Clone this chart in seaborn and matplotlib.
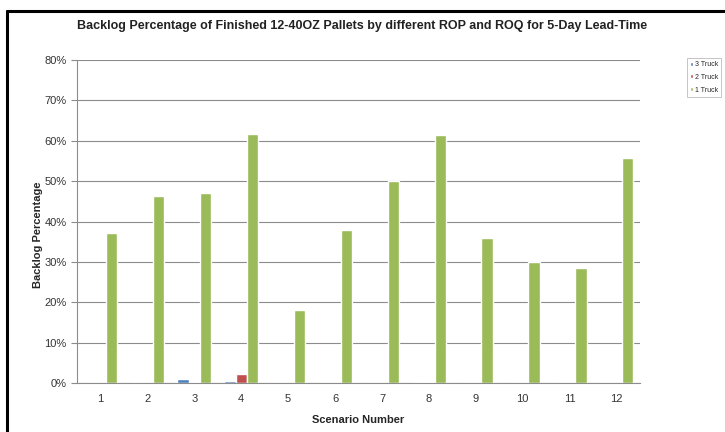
import numpy as np
import pandas as pd
import matplotlib
matplotlib.use("Agg")
import matplotlib.pyplot as plt
from matplotlib.lines import Line2D
import seaborn as sns

# data (backlog %)
scenarios = ["1", "2", "3", "4", "5", "6", "7", "8", "9", "10", "11", "12"]
truck3 = [0.0, 0.2, 0.9, 0.6, 0.0, 0.0, 0.0, 0.2, 0.0, 0.0, 0.0, 0.0]
truck2 = [0.0, 0.1, 0.2, 2.2, 0.0, 0.0, 0.0, 0.2, 0.0, 0.0, 0.0, 0.0]
truck1 = [37.2, 46.3, 47.1, 61.6, 18.1, 37.9, 50.1, 61.4, 35.9, 29.9, 28.4, 55.8]
series = ["3 Truck", "2 Truck", "1 Truck"]
colors = ["#4F81BD", "#C0504D", "#9BBB59"]
yticks = [0, 10, 20, 30, 40, 50, 60, 70, 80]

df = pd.DataFrame({
    "Scenario": scenarios * 3,
    "Series": [series[0]] * 12 + [series[1]] * 12 + [series[2]] * 12,
    "Backlog": truck3 + truck2 + truck1,
})

sns.set_style("white")
plt.rcParams["font.family"] = ["Liberation Sans", "DejaVu Sans"]

fig = plt.figure(figsize=(7.25, 4.32), dpi=100)
ax = fig.add_axes([0.1062, 0.1134, 0.7766, 0.7477])

sns.barplot(data=df, x="Scenario", y="Backlog", hue="Series", order=scenarios,
            hue_order=series, palette=colors, width=0.72, saturation=1,
            errorbar=None, ax=ax)

ax.set_ylim(0, 80)
ax.set_xlim(-0.5, 11.5)
ax.set_yticks(yticks)
ax.set_yticklabels([f"{t}%" for t in yticks], fontsize=8, color="#333333")
ax.yaxis.grid(True, color="#8c8c8c", linewidth=0.8)
ax.set_axisbelow(True)

# excel style ticks between categories
ax.set_xticks(range(12))
ax.set_xticklabels(scenarios, fontsize=8, color="#333333")
ax.set_xticks(np.arange(-0.5, 12, 1), minor=True)
ax.tick_params(axis="x", which="major", length=0, pad=8)
ax.tick_params(axis="x", which="minor", length=4, color="#8c8c8c", direction="out")
ax.tick_params(axis="y", length=4, color="#8c8c8c", direction="out", left=True)

for s in ["top", "right"]:
    ax.spines[s].set_visible(False)
for s in ["left", "bottom"]:
    ax.spines[s].set_color("#8c8c8c")
    ax.spines[s].set_linewidth(0.8)

ax.set_xlabel("Scenario Number", fontsize=8, fontweight="bold", labelpad=8)
ax.set_ylabel("Backlog Percentage", fontsize=8, fontweight="bold")
ax.yaxis.set_label_coords(-0.061, 0.46)

fig.text(0.499, 0.94, "Backlog Percentage of Finished 12-40OZ Pallets by different ROP and ROQ for 5-Day Lead-Time",
         ha="center", va="center", fontsize=9, fontweight="bold", color="#222222")

leg = ax.legend(loc="upper left", bbox_to_anchor=(0.947, 0.866),
                bbox_transform=fig.transFigure, fontsize=5, frameon=True,
                fancybox=False, handlelength=0.5, handleheight=0.5,
                handletextpad=0.25, borderpad=0.45, labelspacing=0.85,
                borderaxespad=0)
leg.get_frame().set_edgecolor("#aaaaaa")
leg.get_frame().set_linewidth(0.6)

# border of the original figure
fig.add_artist(Line2D([0.0097, 0.0097], [0, 0.975], transform=fig.transFigure,
                      color="black", linewidth=2.2))
fig.add_artist(Line2D([0.0097, 1.0], [0.975, 0.975], transform=fig.transFigure,
                      color="black", linewidth=2.2))

fig.savefig("out.png", dpi=100)
